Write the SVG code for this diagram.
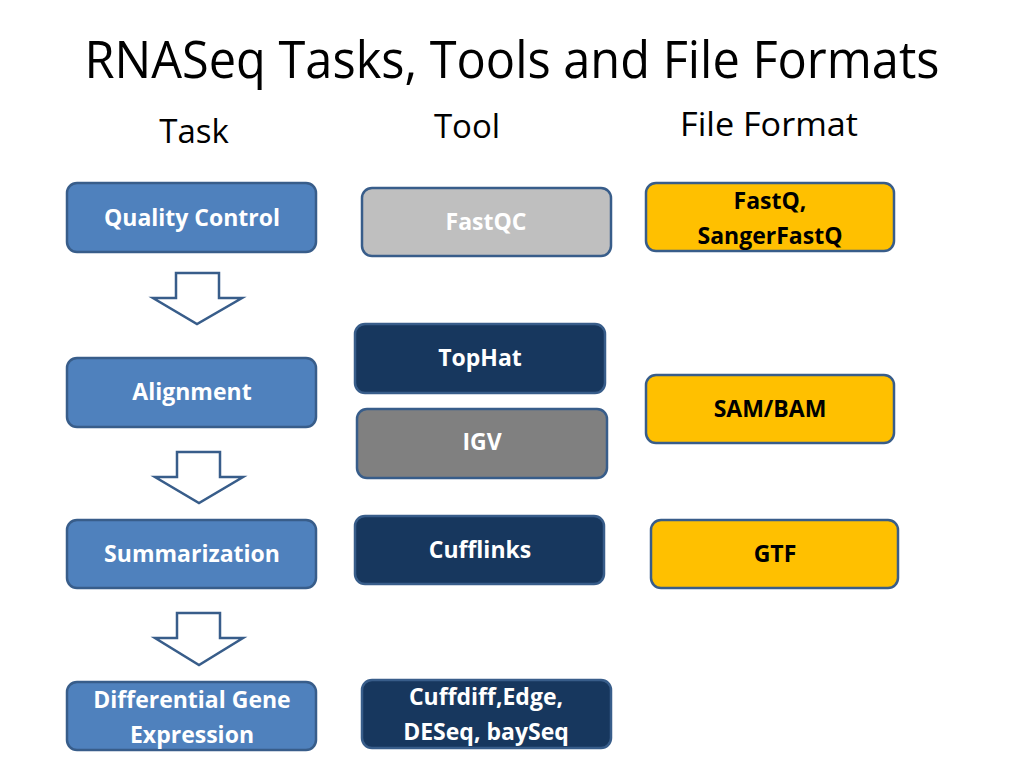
<svg xmlns="http://www.w3.org/2000/svg" width="1024" height="768" viewBox="0 0 1024 768">
<style>
.title{font-family:"Open Sans","Liberation Sans",sans-serif;font-size:51px;fill:#000;text-anchor:middle}
.hdr{font-family:"Open Sans","Liberation Sans",sans-serif;font-size:33px;fill:#000;text-anchor:middle}
.box{stroke:#385D8A;stroke-width:2.5}
.blue{fill:#4F81BD}
.dark{fill:#17375E}
.lgray{fill:#BFBFBF}
.gray{fill:#808080}
.yel{fill:#FFC000}
.t{font-family:"Open Sans","Liberation Sans",sans-serif;font-weight:bold;font-size:23px;text-anchor:middle}
.w{fill:#fff}
.k{fill:#000}
.arr{fill:#fff;stroke:#385D8A;stroke-width:2.5;stroke-linejoin:miter}
</style>
<rect width="1024" height="768" fill="#fff"/>
<text class="title" x="512" y="78" textLength="855" lengthAdjust="spacingAndGlyphs">RNASeq Tasks, Tools and File Formats</text>
<text class="hdr" x="194" y="143">Task</text>
<text class="hdr" x="467" y="138">Tool</text>
<text class="hdr" x="769" y="136" textLength="178" lengthAdjust="spacingAndGlyphs">File Format</text>

<g id="quality-control"><rect class="box blue" x="67" y="183" width="249" height="69" rx="10"/><text class="t w" x="192" y="226">Quality Control</text></g>
<g id="alignment"><rect class="box blue" x="67" y="358" width="249" height="69" rx="10"/><text class="t w" x="192" y="400">Alignment</text></g>
<g id="summarization"><rect class="box blue" x="67" y="520" width="249" height="68" rx="10"/><text class="t w" x="192" y="562">Summarization</text></g>
<g id="differential-gene-expression"><rect class="box blue" x="67" y="682" width="249" height="68" rx="10"/><text class="t w" x="192" y="708">Differential Gene</text><text class="t w" x="192" y="743">Expression</text></g>

<g id="fastqc"><rect class="box lgray" x="362" y="188" width="249" height="68" rx="10"/><text class="t w" x="486" y="230">FastQC</text></g>
<g id="tophat"><rect class="box dark" x="355" y="324" width="250" height="69" rx="10"/><text class="t w" x="480" y="366">TopHat</text></g>
<g id="igv"><rect class="box gray" x="357" y="409" width="250" height="69" rx="10"/><text class="t w" x="482" y="450">IGV</text></g>
<g id="cufflinks"><rect class="box dark" x="355" y="516" width="249" height="68" rx="10"/><text class="t w" x="480" y="558">Cufflinks</text></g>
<g id="cuffdiff"><rect class="box dark" x="362" y="680" width="249" height="68" rx="10"/><text class="t w" x="486" y="705">Cuffdiff,Edge,</text><text class="t w" x="486" y="740">DESeq, baySeq</text></g>

<g id="fastq"><rect class="box yel" x="646" y="183" width="248" height="68" rx="10"/><text class="t k" x="770" y="209">FastQ,</text><text class="t k" x="770" y="244">SangerFastQ</text></g>
<g id="sam-bam"><rect class="box yel" x="646" y="375" width="248" height="68" rx="10"/><text class="t k" x="770" y="417">SAM/BAM</text></g>
<g id="gtf"><rect class="box yel" x="651" y="520" width="247" height="68" rx="10"/><text class="t k" x="775" y="562">GTF</text></g>

<g id="connectors">
<path class="arr" d="M176 273 H219 V298 H242 L197 324 L153 298 H176 Z"/>
<path class="arr" d="M177 452 H220 V477 H243 L199 503 L155 477 H177 Z"/>
<path class="arr" d="M177 613 H220 V638 H243 L199 665 L155 638 H177 Z"/>
</g>
</svg>
